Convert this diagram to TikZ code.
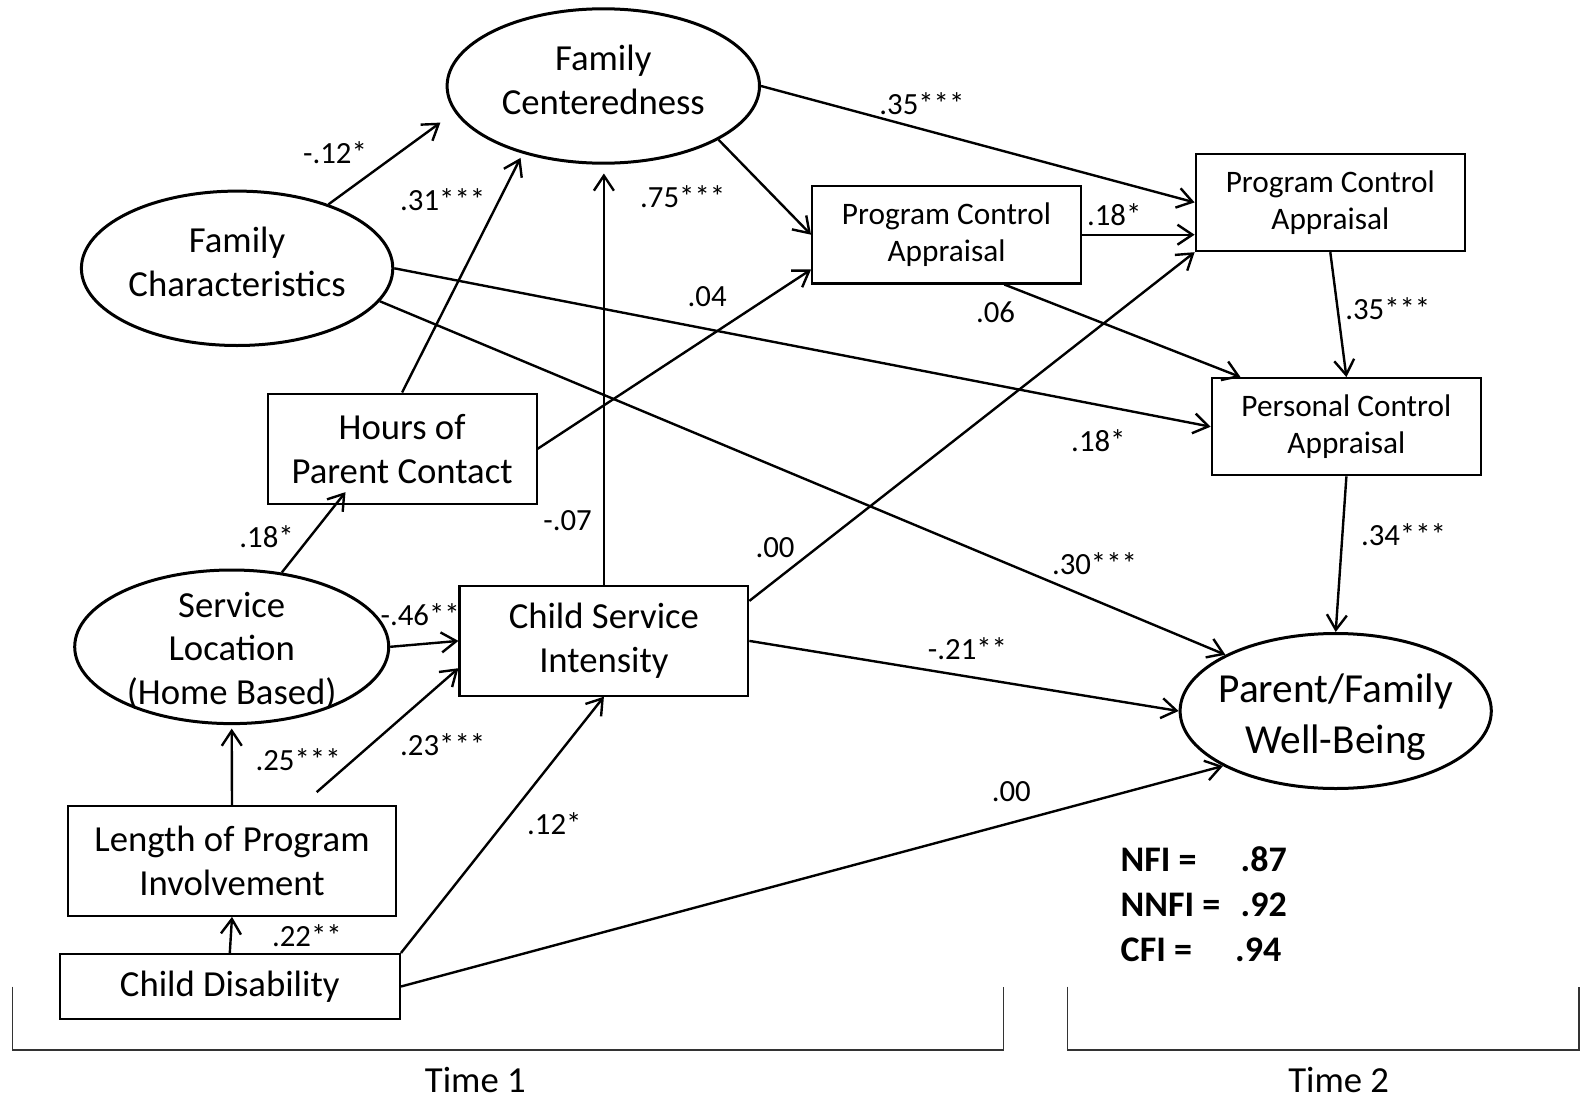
\documentclass[tikz,border=0pt]{standalone}
\usepackage{fontspec}
\setmainfont{Carlito}
\usetikzlibrary{shapes.geometric,arrows.meta,calc}
\tikzset{>={Straight Barb[length=15pt,width=20pt]}}
\newcommand\nodesize{\fontsize{36.7}{43.5}\selectfont}
\newcommand\smallsize{\fontsize{31.3}{36.8}\selectfont}
\newcommand\coefsize{\fontsize{30.8}{36}\selectfont}
\newcommand\bigsize{\fontsize{41.3}{50.9}\selectfont}
\newcommand\statsize{\fontsize{36}{45.6}\selectfont\bfseries}
\tikzset{
  latent/.style={ellipse, draw, line width=3pt, inner sep=0pt},
  observed/.style={rectangle, draw, line width=2.1pt, inner sep=0pt, align=center, font=\nodesize},
  inner/.style={align=center, font=\nodesize, inner sep=0pt},
  effect/.style={->, line width=2.4pt},
  coef/.style={font=\coefsize, inner sep=0pt},
  stat/.style={font=\statsize, anchor=west, inner sep=0pt},
  bracket/.style={line width=1.6pt, draw=black!80}
}

\begin{document}
\begin{tikzpicture}[x=1pt,y=-1pt]
\useasboundingbox (0,0) rectangle (1580,1100);
\node[latent, minimum width=312.4pt, minimum height=154.4pt,
  label={[inner,yshift=6pt]center:{Family\\Centeredness}}] (famcent) at (603.3,86) {};
\node[latent, minimum width=311.4pt, minimum height=154.4pt,
  label={[inner,yshift=6.6pt]center:{Family\\Characteristics}}] (famchar) at (237.1,268.3) {};
\node[latent, minimum width=314pt, minimum height=153.6pt,
  label={[inner,yshift=-4pt]center:{Service\\Location\\(Home Based)}}] (sl) at (231.7,646.8) {};
\node[latent, minimum width=311.2pt, minimum height=155pt,
  label={[inner,font=\bigsize,yshift=-6pt]center:{Parent/Family\\Well-Being}}] (wb) at (1335.7,711) {};

\node[observed, minimum width=269pt, minimum height=110.5pt] (hours) at (402.1,448.8) {Hours of\\Parent Contact};
\node[observed, minimum width=328.7pt, minimum height=109.8pt] (len) at (232,860.9) {Length of Program\\Involvement};
\node[observed, minimum width=340.3pt, minimum height=65pt] (cd) at (229.8,986.5) {Child Disability};
\node[observed, minimum width=288.8pt, minimum height=109.5pt] (csi) at (603.9,640.9) {Child Service\\Intensity};
\node[observed, font=\smallsize, minimum width=268.8pt, minimum height=97.5pt] (pca1) at (946.5,234.7) {Program Control\\Appraisal};
\node[observed, font=\smallsize, minimum width=269.3pt, minimum height=97.5pt] (pca2) at (1330.3,202.4) {Program Control\\Appraisal};
\node[observed, font=\smallsize, minimum width=269.4pt, minimum height=97.2pt] (pers) at (1346.4,426.7) {Personal Control\\Appraisal};

\path[effect]
  (famchar.35) edge[shorten >=17.6pt] (famcent.190.6)
  (famchar.east) edge (pers.west)
  (famchar.347.7) edge (wb.153.5)
  (hours.north) edge[shorten >=4.8pt] (famcent.220)
  (hours.east) edge ($(pca1.south west)+(0,-15)$)
  (csi.north) edge[shorten >=8.8pt] (csi.north |- famcent.south)
  (famcent.335.5) edge (pca1.west)
  (famcent.east) edge (pca2.west)
  (pca1.east) edge (pca1.east -| pca2.west)
  ($(pca1.south)+(57.8,0)$) edge ($(pers.north)+(-105.9,0)$)
  (pca2.south) edge (pers.north)
  (pers.south) edge (wb.north)
  (csi.east) edge (wb.west)
  ($(csi.north east)+(0,15.8)$) edge (pca2.south west)
  (sl.56) edge ($(hours.south)+(-56.6,-13)$)
  (sl.east) edge (csi.west)
  ($(len.north)+(70,0)$) edge[shorten <=19.5pt] ($(csi.west)+(0,27.3)$)
  (len.north) edge[shorten >=3.5pt] (sl.south)
  (cd.north) edge (len.south)
  (cd.north east) edge (csi.south)
  (cd.east) edge (wb.206);

\node[coef] (fc-cen) at (335,152.6) {-.12*};
\node[coef] (hr-cen) at (442.7,200) {.31***};
\node[coef] (cen-pc1) at (682.7,196.4) {.75***};
\node[coef] (cen-pc2) at (921.9,103.5) {.35***};
\node[coef] (pc1-pc2) at (1114.2,214.7) {.18*};
\node[coef] (hr-pc1) at (707.2,296.4) {.04};
\node[coef] (pc1-pers) at (995.5,312.2) {.06};
\node[coef] (pc2-pers) at (1387.8,308.7) {.35***};
\node[coef] (fc-pers) at (1098.4,440.2) {.18*};
\node[coef] (pers-wb) at (1403.5,534.9) {.34***};
\node[coef] (csi-cen) at (567.6,520.9) {-.07};
\node[coef] (csi-pc2) at (775,548) {.00};
\node[coef] (fc-wb) at (1094.5,564) {.30***};
\node[coef] (csi-wb) at (967.5,648.2) {-.21**};
\node[coef] (sl-hr) at (266.6,536.6) {.18*};
\node[coef] (sl-csi) at (420.2,614.9) {-.46**};
\node[coef] (len-csi) at (442.7,744.7) {.23***};
\node[coef] (len-sl) at (298.1,759.8) {.25***};
\node[coef] (cd-len) at (306.9,935.8) {.22**};
\node[coef] (cd-csi) at (554.3,823.6) {.12*};
\node[coef] (cd-wb) at (1011.3,792) {.00};

\node[stat] (nfi) at (1120.5,858.7) {\makebox[120pt][l]{NFI =}.87};
\node[stat] (nnfi) at (1120.5,905) {\makebox[120pt][l]{NNFI =}.92};
\node[stat] (cfi) at (1120.5,949.9) {\makebox[114.5pt][l]{CFI =}.94};

\draw[bracket] (12.3,986.7) |- (1003.6,1049.8) -- (1003.6,986.7);
\draw[bracket] (1067.5,986.7) |- (1578.9,1049.8) -- (1578.9,986.7);
\node[inner] (time1) at (475.3,1080) {Time 1};
\node[inner] (time2) at (1338.7,1080) {Time 2};
\end{tikzpicture}
\end{document}
